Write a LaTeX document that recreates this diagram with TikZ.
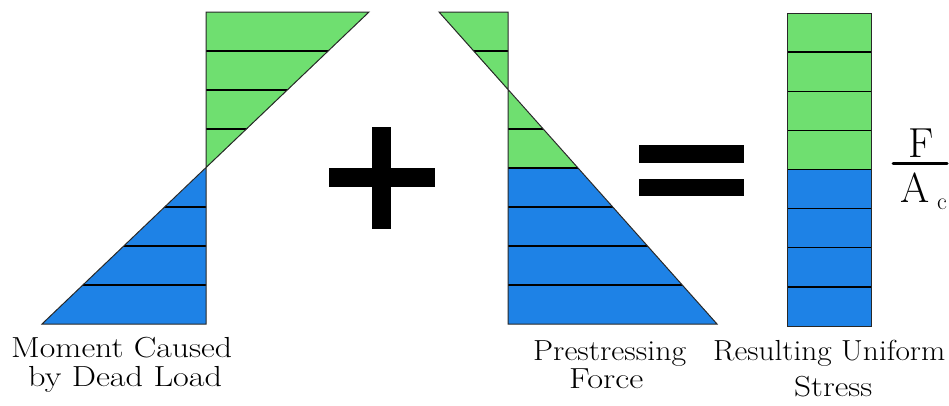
\documentclass[tikz,border=0pt]{standalone}
\usepackage{graphicx}
\definecolor{gr}{RGB}{111,223,112}
\definecolor{bl}{RGB}{30,130,230}
\definecolor{edge}{RGB}{40,40,40}
\newcommand{\lbl}[2]{\resizebox{#1pt}{\height}{\fontsize{29}{29}\selectfont #2}}
\tikzset{
  band/.style={line width=1.4pt, black},
  outl/.style={line width=1pt, edge},
  sym/.style={fill=black, draw=none},
  lab/.style={inner sep=0pt, anchor=base west}
}
\begin{document}
\begin{tikzpicture}[x=1pt,y=-1pt]
\useasboundingbox (0,0) rectangle (949,405);
% ---------- Left: moment by dead load
\fill[gr] (206,12) -- (369,12) -- (206,168) -- cycle;
\fill[bl] (206,168) -- (206,324) -- (42,324) -- cycle;
\begin{scope}
\clip (206,12) -- (369,12) -- (206,168) -- cycle;
\foreach \y in {51,90,129} \draw[band] (150,\y) -- (400,\y);
\end{scope}
\begin{scope}
\clip (206,168) -- (206,324) -- (42,324) -- cycle;
\foreach \y in {207,246,285} \draw[band] (20,\y) -- (250,\y);
\end{scope}
\draw[outl] (206,12) -- (369,12) -- (42,324) -- (206,324) -- cycle;
% ---------- plus
\fill[sym] (329,168) rectangle (435,187);
\fill[sym] (372,127) rectangle (391,229);
% ---------- Middle: prestressing force
\fill[gr] (439,12) -- (508,12) -- (508,90) -- cycle;
\begin{scope}
\clip (508,90) -- (508,324) -- (717,324) -- cycle;
\fill[gr] (500,88) rectangle (720,168);
\fill[bl] (500,168) rectangle (720,326);
\foreach \y in {129,168,207,246,285} \draw[band] (500,\y) -- (720,\y);
\end{scope}
\begin{scope}
\clip (439,12) -- (508,12) -- (508,90) -- cycle;
\draw[band] (430,51) -- (510,51);
\end{scope}
\draw[outl] (439,12) -- (508,12) -- (508,324) -- (717,324) -- cycle;
% ---------- equals
\fill[sym] (639,145) rectangle (744,163);
\fill[sym] (639,179) rectangle (744,196);
% ---------- Right: resulting uniform stress
\fill[gr] (787,13) rectangle (871,169.5);
\fill[bl] (787,169.5) rectangle (871,326);
\foreach \i in {1,...,7} \draw[band] (787,{13+\i*39.125}) -- (871,{13+\i*39.125});
\draw[outl] (787,13) rectangle (871,326);
% ---------- F / A_c
\node[inner sep=0pt, anchor=base, font=\fontsize{42}{42}\selectfont] (fF) at (921,157) {F};
\draw[line width=3pt, line cap=round] (893,163) -- (947,163);
\node[inner sep=0pt, anchor=base, font=\fontsize{42}{42}\selectfont] (fA) at (915,202) {A};
\node[inner sep=0pt, anchor=base west, font=\fontsize{24}{24}\selectfont] (fc) at (937,209) {c};
% ---------- labels
\node[lab] (l1a) at (11,357) {\lbl{221}{Moment Caused}};
\node[lab] (l1b) at (28,386) {\lbl{194}{by Dead Load}};
\node[lab] (l2a) at (533,360) {\lbl{153}{Prestressing}};
\node[lab] (l2b) at (569,388) {\lbl{74}{Force}};
\node[lab] (l3a) at (713,360) {\lbl{232}{Resulting Uniform}};
\node[lab] (l3b) at (794,396) {\lbl{78}{Stress}};
\end{tikzpicture}
\end{document}
